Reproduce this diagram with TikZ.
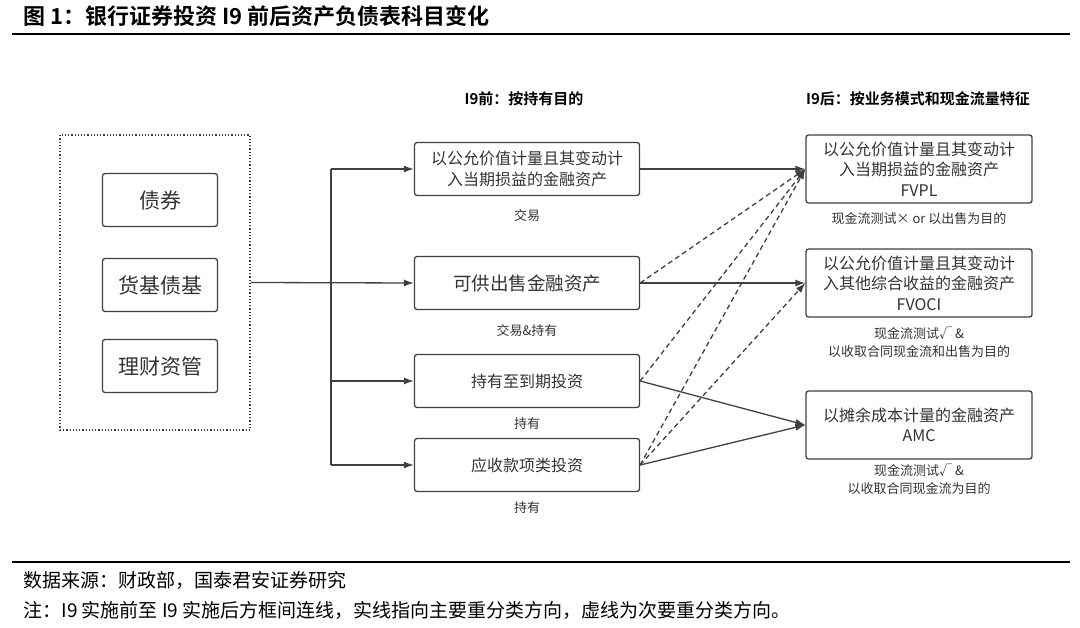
\documentclass[tikz,border=0pt]{standalone}
\usepackage{fontspec}
\setmainfont{Noto Sans CJK SC}[BoldFont={Noto Sans CJK SC Bold}]
\usepackage{tikz}
\usetikzlibrary{arrows.meta, calc}

\definecolor{boxgray}{HTML}{404040}
\definecolor{txtgray}{HTML}{333333}

\begin{document}
\begin{tikzpicture} [x=1pt, y=-1pt,
	box/.style={draw=boxgray, line width=1.3pt, rounded corners=2.5pt, align=center,
		text=txtgray, inner sep=0pt, font=\fontsize{16}{20.5}\selectfont},
	midbox/.style={box, minimum width=225pt, minimum height=53pt},
	rightbox/.style={box, minimum width=226pt, minimum height=68pt},
	leftbox/.style={box, minimum width=115pt, minimum height=53pt, font=\fontsize{21}{24}\selectfont},
	note/.style={text=txtgray, align=center, font=\fontsize{13}{18}\selectfont},
	head/.style={text=black, font=\bfseries\fontsize{15}{17}\selectfont},
	arr/.style={draw=boxgray, line width=1.3pt, -{Latex[length=10pt, width=7pt]}},
	darr/.style={arr, dash pattern=on 5pt off 3.5pt}]
	%    rule/.style={line width=1.8pt}

	\useasboundingbox (0,0) rectangle (1080,628);

	% title and footer
	\node[anchor=west, font=\bfseries\fontsize{22}{24}\selectfont] (title) at (20,16) {图 1：银行证券投资 I9 前后资产负债表科目变化};
	\draw[line width=1.8pt] (12,34) -- (1070,34);
	\draw[line width=1.8pt] (12,562) -- (1070,562);
	\node[anchor=west, font=\fontsize{19}{21}\selectfont] (source) at (20,580) {数据来源：财政部，国泰君安证券研究};
	\node[anchor=west, font=\fontsize{19}{21}\selectfont] (remark) at (20,610) {注：I9 实施前至 I9 实施后方框间连线，实线指向主要重分类方向，虚线为次要重分类方向。};

	% headers
	\node[head] (before) at (524,99) {I9前：按持有目的};
	\node[head] (after) at (918,99) {I9后：按业务模式和现金流量特征};

	% left group
	\node[draw=boxgray, dotted, line width=1.2pt, minimum width=190pt, minimum height=295pt] (src) at (155,282.5) {};
	\node[leftbox] (bond) at (160,200) {债券};
	\node[leftbox] (fund) at (160,285) {货基债基};
	\node[leftbox] (wealth) at (160,366) {理财资管};

	% before I9
	\node[midbox] (fvtpl) at (527,169) {以公允价值计量且其变动计\\入当期损益的金融资产};
	\node[midbox, font=\fontsize{18.5}{20}\selectfont] (afs) at (527,283) {可供出售金融资产};
	\node[midbox] (htm) at (527,381) {持有至到期投资};
	\node[midbox] (lr) at (527,465) {应收款项类投资};
	\node[note] (l1) at (527,216) {交易};
	\node[note] (l2) at (527,331) {交易\&持有};
	\node[note] (l3) at (527,424) {持有};
	\node[note] (l4) at (527,508) {持有};

	% after I9
	\node[rightbox] (fvpl) at (919,169) {以公允价值计量且其变动计\\入当期损益的金融资产\\FVPL};
	\node[rightbox] (fvoci) at (919,283) {以公允价值计量且其变动计\\入其他综合收益的金融资产\\FVOCI};
	\node[rightbox] (amc) at (919,425) {以摊余成本计量的金融资产\\AMC};
	\node[note] (r1) at (919,219) {现金流测试× or 以出售为目的};
	\node[note] (r2) at (919,342) {现金流测试√ \&\\以收取合同现金流和出售为目的};
	\node[note] (r3) at (919,479) {现金流测试√ \&\\以收取合同现金流为目的};

	% fan out
	\coordinate (trunk) at (331,0);
	\draw[arr] (src.east) -- (afs.west);
	\draw[line width=1.3pt, draw=boxgray] (trunk |- fvtpl.west) -- (trunk |- lr.west);
	\foreach \n in {fvtpl, htm, lr}
		\draw[arr] (trunk |- \n.west) -- (\n.west);

	% main direction
	\draw[arr] (fvtpl.east) -- (fvpl.west);
	\draw[arr] (afs.east) -- (fvoci.west);
	\draw[arr] (htm.east) -- (amc.west);
	\draw[arr] (lr.east) -- (amc.west);

	% secondary direction
	\draw[darr] (afs.east) -- (fvpl.west);
	\draw[darr] (htm.east) -- (fvpl.west);
	\draw[darr] (lr.east) -- (fvpl.west);
	\draw[darr] (lr.east) -- (fvoci.west);

\end{tikzpicture}
\end{document}
